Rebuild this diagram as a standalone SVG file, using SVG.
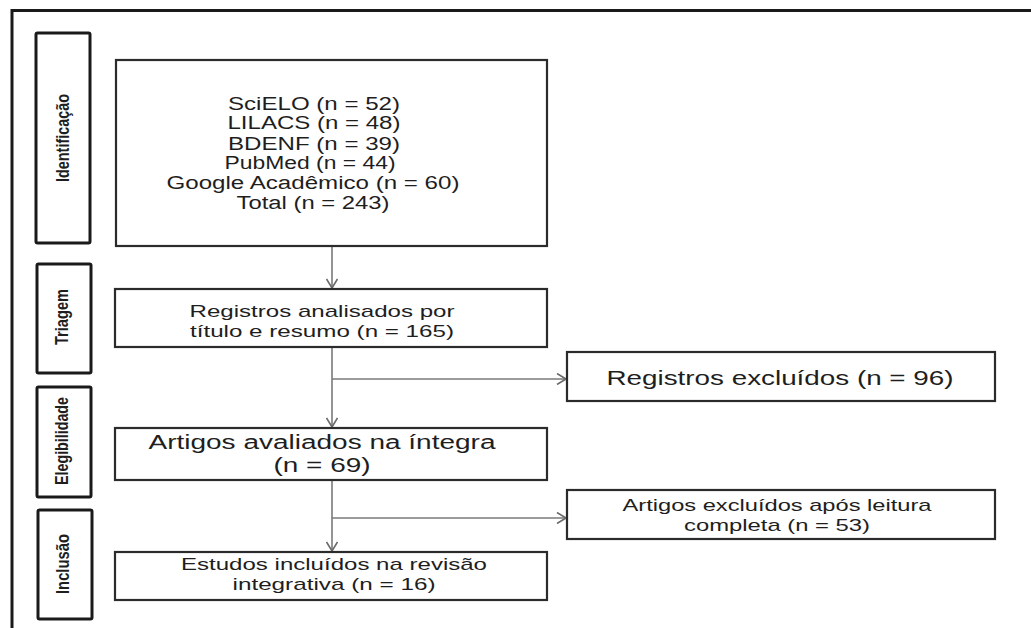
<svg xmlns="http://www.w3.org/2000/svg" width="1031" height="628" viewBox="0 0 1031 628">
<defs>
<style>
.frame{fill:none;stroke:#1a1a1a;stroke-width:3}
.stage{fill:#fff;stroke:#1a1a1a;stroke-width:3}
.box{fill:#fff;stroke:#2b2b2b;stroke-width:2.2}
.conn{fill:none;stroke:#7a7a7a;stroke-width:1.6}
.t{font-family:"Liberation Sans",Arial,sans-serif;fill:#1e1e1e;text-anchor:middle}
.st{font-family:"Liberation Sans Narrow","Liberation Sans",Arial,sans-serif;font-weight:bold;fill:#1e1e1e;text-anchor:middle;font-size:18px}
</style>
<marker id="arr" viewBox="0 0 10 12" refX="10" refY="6" markerWidth="10" markerHeight="12" markerUnits="userSpaceOnUse" orient="auto">
<path d="M1,0.5 L10,6 L1,11.5" fill="none" stroke="#6a6a6a" stroke-width="1.6"/>
</marker>
</defs>
<rect width="1031" height="628" fill="#fff"/>
<path class="frame" d="M12,628 V10.5 H1031"/>

<g id="stage-identificacao">
<rect class="stage" x="36" y="33" width="54" height="210" rx="1.5"/>
<text class="st" transform="translate(63,138) rotate(-90)" dominant-baseline="central" textLength="88" lengthAdjust="spacingAndGlyphs">Identificação</text>
</g>
<g id="stage-triagem">
<rect class="stage" x="37" y="264" width="54" height="109" rx="1.5"/>
<text class="st" transform="translate(62,317) rotate(-90)" dominant-baseline="central" textLength="56" lengthAdjust="spacingAndGlyphs">Triagem</text>
</g>
<g id="stage-elegibilidade">
<rect class="stage" x="37" y="387" width="54" height="110" rx="1.5"/>
<text class="st" transform="translate(62,441) rotate(-90)" dominant-baseline="central" textLength="88" lengthAdjust="spacingAndGlyphs">Elegibilidade</text>
</g>
<g id="stage-inclusao">
<rect class="stage" x="38" y="510" width="54" height="109" rx="1.5"/>
<text class="st" transform="translate(63,564) rotate(-90)" dominant-baseline="central" textLength="60" lengthAdjust="spacingAndGlyphs">Inclusão</text>
</g>

<g id="connectors">
<line class="conn" x1="332" y1="246" x2="332" y2="288" marker-end="url(#arr)"/>
<line class="conn" x1="332" y1="347" x2="332" y2="427" marker-end="url(#arr)"/>
<line class="conn" x1="332" y1="379" x2="566" y2="379" marker-end="url(#arr)"/>
<line class="conn" x1="332" y1="480" x2="332" y2="551" marker-end="url(#arr)"/>
<line class="conn" x1="332" y1="518" x2="566" y2="518" marker-end="url(#arr)"/>
</g>

<g id="node-identificacao">
<rect class="box" x="116" y="60" width="431" height="186"/>
<text class="t" font-size="18" x="314" y="110" textLength="172" lengthAdjust="spacingAndGlyphs">SciELO (n = 52)</text>
<text class="t" font-size="18" x="314" y="129" textLength="173" lengthAdjust="spacingAndGlyphs">LILACS (n = 48)</text>
<text class="t" font-size="18" x="314" y="150" textLength="172" lengthAdjust="spacingAndGlyphs">BDENF (n = 39)</text>
<text class="t" font-size="18" x="310" y="169" textLength="171" lengthAdjust="spacingAndGlyphs">PubMed (n = 44)</text>
<text class="t" font-size="18" x="313" y="189" textLength="293" lengthAdjust="spacingAndGlyphs">Google Acadêmico (n = 60)</text>
<text class="t" font-size="18" x="313" y="209" textLength="153" lengthAdjust="spacingAndGlyphs">Total (n = 243)</text>
</g>

<g id="node-triagem">
<rect class="box" x="115" y="289" width="432" height="58"/>
<text class="t" font-size="17" x="322" y="317" textLength="265" lengthAdjust="spacingAndGlyphs">Registros analisados por</text>
<text class="t" font-size="17" x="322" y="337" textLength="264" lengthAdjust="spacingAndGlyphs">título e resumo (n = 165)</text>
</g>

<g id="node-excluidos1">
<rect class="box" x="567" y="352" width="428" height="49"/>
<text class="t" font-size="20" x="780" y="385" textLength="347" lengthAdjust="spacingAndGlyphs">Registros excluídos (n = 96)</text>
</g>

<g id="node-elegibilidade">
<rect class="box" x="115" y="428" width="432" height="52"/>
<text class="t" font-size="20" x="322" y="449" textLength="347" lengthAdjust="spacingAndGlyphs">Artigos avaliados na íntegra</text>
<text class="t" font-size="20" x="322" y="472" textLength="97" lengthAdjust="spacingAndGlyphs">(n = 69)</text>
</g>

<g id="node-excluidos2">
<rect class="box" x="567" y="490" width="428" height="49"/>
<text class="t" font-size="17" x="777" y="511" textLength="309" lengthAdjust="spacingAndGlyphs">Artigos excluídos após leitura</text>
<text class="t" font-size="17" x="777" y="531" textLength="186" lengthAdjust="spacingAndGlyphs">completa (n = 53)</text>
</g>

<g id="node-inclusao">
<rect class="box" x="115" y="552" width="432" height="48"/>
<text class="t" font-size="17" x="334" y="570" textLength="306" lengthAdjust="spacingAndGlyphs">Estudos incluídos na revisão</text>
<text class="t" font-size="17" x="334" y="590" textLength="203" lengthAdjust="spacingAndGlyphs">integrativa (n = 16)</text>
</g>
</svg>
